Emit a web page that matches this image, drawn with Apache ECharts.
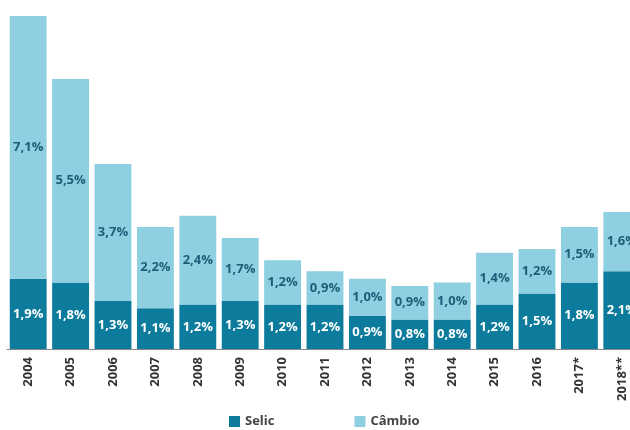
<!DOCTYPE html>
<html><head><meta charset="utf-8">
<script src="https://cdn.jsdelivr.net/npm/echarts@6/dist/echarts.min.js"></script>
<style>body{margin:0}#main{width:630px;height:430px}</style>
</head><body><div id="main"></div>
<script>
var anos = ['2004','2005','2006','2007','2008','2009','2010','2011','2012','2013','2014','2015','2016','2017*','2018**'];
var selic = [1.9,1.8,1.3,1.1,1.2,1.3,1.2,1.2,0.9,0.8,0.8,1.2,1.5,1.8,2.1];
var cambio = [7.1,5.5,3.7,2.2,2.4,1.7,1.2,0.9,1.0,0.9,1.0,1.4,1.2,1.5,1.6];

function fmt(p) { return p.value.toFixed(1).replace('.', ',') + '%'; }

var myChart = echarts.init(document.getElementById('main'));
myChart.setOption({
  animation: false,
  grid: { left: 7, top: 16, width: 636, height: 333, outerBoundsMode: 'none', containLabel: false },
  legend: {
    bottom: -3, left: 224, itemWidth: 11, itemHeight: 11, itemGap: 80, icon: 'rect',
    textStyle: { fontFamily: 'Open Sans', fontWeight: 'bold', fontSize: 13, color: '#444' },
    data: ['Selic', 'Câmbio']
  },
  xAxis: {
    type: 'category', data: anos,
    axisLine: { lineStyle: { color: '#888' } }, axisTick: { show: false },
    axisLabel: { rotate: 90, fontFamily: 'Open Sans', fontWeight: 'bold', fontSize: 13, color: '#333' }
  },
  yAxis: { type: 'value', min: 0, max: 9, show: false, splitLine: { show: false } },
  series: [
    {
      name: 'Selic', type: 'bar', stack: 't', data: selic, barCategoryGap: '13%',
      itemStyle: { color: '#0d7c9c' },
      label: { show: true, formatter: fmt, color: '#fff', fontWeight: 'bold', fontSize: 13, fontFamily: 'Open Sans' }
    },
    {
      name: 'Câmbio', type: 'bar', stack: 't', data: cambio,
      itemStyle: { color: '#8ecfe2' },
      label: { show: true, formatter: fmt, color: '#1d5f78', fontWeight: 'bold', fontSize: 13, fontFamily: 'Open Sans' }
    }
  ]
});
</script></body></html>
